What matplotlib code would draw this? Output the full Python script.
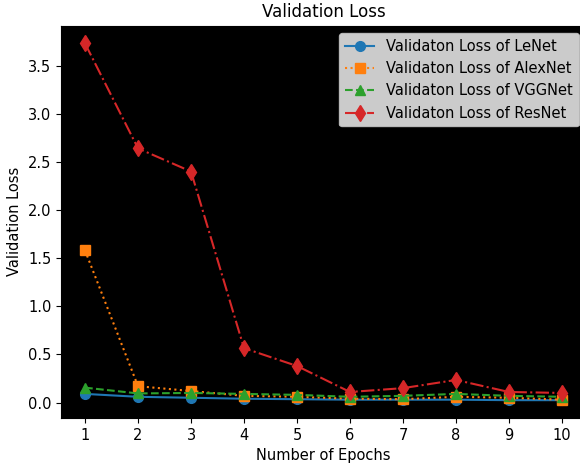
import numpy as np
import matplotlib
matplotlib.use('Agg')
from matplotlib import pyplot as plt

epochs = [1, 2, 3, 4, 5, 6, 7, 8, 9, 10]
lenet = [0.09, 0.06, 0.05, 0.04, 0.035, 0.03, 0.03, 0.03, 0.025, 0.025]
alexnet = [1.58, 0.17, 0.12, 0.07, 0.06, 0.04, 0.035, 0.06, 0.05, 0.03]
vggnet = [0.155, 0.095, 0.10, 0.09, 0.08, 0.06, 0.07, 0.09, 0.07, 0.06]
resnet = [3.73, 2.64, 2.40, 0.565, 0.38, 0.11, 0.15, 0.235, 0.11, 0.10]

plt.rcParams['font.size'] = 10.5

fig, ax = plt.subplots(figsize=(5.8, 4.66), dpi=100)
ax.set_facecolor('black')

ax.plot(epochs, lenet, '-', marker='o', markersize=7, label='Validaton Loss of LeNet')
ax.plot(epochs, alexnet, ':', marker='s', markersize=7, label='Validaton Loss of AlexNet')
ax.plot(epochs, vggnet, '--', marker='^', markersize=7, label='Validaton Loss of VGGNet')
ax.plot(epochs, resnet, '-.', marker='d', markersize=8, label='Validaton Loss of ResNet')

ax.set_xticks(epochs)
ax.set_title('Validation Loss', fontsize=12)
ax.set_xlabel('Number of Epochs')
ax.set_ylabel('Validation Loss')
ax.legend(loc='upper right')

# axes runs a bit past the right edge, like the cropped original
plt.subplots_adjust(left=0.1055, right=1.01, top=0.945, bottom=0.103)
plt.savefig('out.png')
